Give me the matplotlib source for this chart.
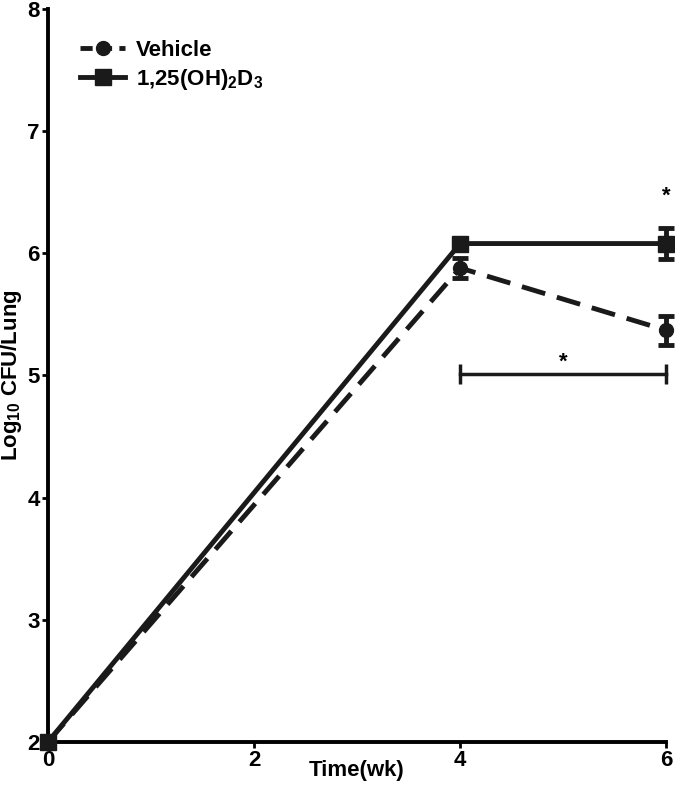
import matplotlib.pyplot as plt
from matplotlib.lines import Line2D

plt.rcParams['font.family'] = ['Liberation Sans', 'DejaVu Sans']
plt.rcParams['font.weight'] = 'bold'
plt.rcParams['mathtext.fontset'] = 'custom'
plt.rcParams['mathtext.bf'] = 'Liberation Sans:bold'
plt.rcParams['mathtext.rm'] = 'Liberation Sans:bold'
plt.rcParams['mathtext.default'] = 'bf'

weeks = [0, 4, 6]
vehicle = [2.0, 5.88, 5.37]
vehicle_err = [0.0, 0.08, 0.12]
vitd = [2.0, 6.08, 6.08]
vitd_err = [0.0, 0.03, 0.13]

fig = plt.figure(figsize=(6.75, 7.89), dpi=100)
ax = fig.add_axes([0.071, 0.0596, 0.916, 0.929])

dark = '#1a1a1a'
ax.errorbar(weeks, vitd, yerr=vitd_err, color=dark, lw=3.5, marker='s', ms=11,
            capsize=6, capthick=3.5, elinewidth=3.5, clip_on=False, zorder=3)
ax.errorbar(weeks, vehicle, yerr=vehicle_err, color=dark, lw=3.5, ls=(0, (5, 2.5)),
            marker='o', ms=10, capsize=6, capthick=3.5, elinewidth=3.5, clip_on=False,
            zorder=3)

# significance marks
ax.errorbar([4, 6], [5.01, 5.01], yerr=[0.08, 0.08], color=dark, lw=2.5, capsize=0,
            elinewidth=2.5, clip_on=False)
ax.text(5, 5.11, '*', ha='center', va='center', fontsize=16)
ax.text(6, 6.47, '*', ha='center', va='center', fontsize=16)

ax.set_xlim(0, 6)
ax.set_ylim(2, 8)
ax.set_xticks([0, 2, 4, 6])
ax.set_yticks([2, 3, 4, 5, 6, 7, 8])
for s in ['top', 'right']:
    ax.spines[s].set_visible(False)
for s in ['left', 'bottom']:
    ax.spines[s].set_linewidth(2.8)
ax.tick_params(width=2, length=4, labelsize=16, pad=2)

ax.set_xlabel('Time(wk)', fontsize=16, fontweight='bold', labelpad=-8)
ax.set_ylabel('Log$_{10}$ CFU/Lung', fontsize=16, fontweight='bold', labelpad=2)

handles = [Line2D([], [], color=dark, lw=3.5, ls=(0, (2.5, 1.5)), marker='o', ms=10),
           Line2D([], [], color=dark, lw=3.5, marker='s', ms=11)]
ax.legend(handles, ['Vehicle', '1,25(OH)$_2$D$_3$'], loc='upper left',
          bbox_to_anchor=(0.02, 0.985), frameon=False, fontsize=16,
          handlelength=2.0, handletextpad=0.5, labelspacing=0.25)

fig.savefig('out.png', dpi=100)
